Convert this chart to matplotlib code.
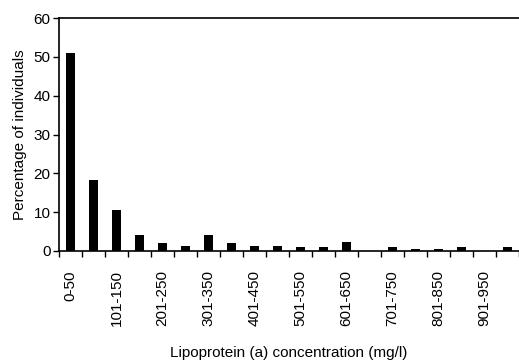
import matplotlib
matplotlib.use("Agg")
import matplotlib.pyplot as plt
import numpy as np

categories = ["0-50", "51-100", "101-150", "151-200", "201-250", "251-300",
              "301-350", "351-400", "401-450", "451-500", "501-550", "551-600",
              "601-650", "651-700", "701-750", "751-800", "801-850", "851-900",
              "901-950", "951-1000"]
percentages = [51, 18.2, 10.5, 4.0, 2.0, 1.3, 4.0, 2.0, 1.3, 1.3, 1.0, 1.0,
               2.3, 0, 1.0, 0.4, 0.4, 1.0, 0, 1.0]
tick_labels = [c if i % 2 == 0 else "" for i, c in enumerate(categories)]

plt.rcParams['font.family'] = ['Liberation Sans', 'DejaVu Sans']
plt.rcParams['font.size'] = 11

fig = plt.figure(figsize=(5.19, 3.61), dpi=100)
ax = fig.add_axes([59/519, 1 - 251/361, 460/519, 233/361])

x = np.arange(len(categories))
ax.bar(x, percentages, width=0.43, color='black')
ax.set_xlim(-0.5, len(categories) - 0.5)
ax.set_ylim(0, 60)
ax.set_yticks(range(0, 61, 10))

ax.set_xticks(x)
ax.set_xticklabels(tick_labels, rotation=90)
ax.tick_params(axis='x', which='major', length=0, pad=14)
ax.set_xticks(np.arange(-0.5, len(categories), 1), minor=True)
ax.tick_params(axis='x', which='minor', length=4, direction='out', width=1)
ax.tick_params(axis='y', length=4, direction='out', width=1, pad=2)

for s in ['left', 'bottom', 'top']:
    ax.spines[s].set_linewidth(1.2)
ax.spines['right'].set_visible(False)

ax.set_ylabel("Percentage of individuals", labelpad=5)
ax.set_xlabel("Lipoprotein (a) concentration (mg/l)", labelpad=14)

fig.savefig("out.png", dpi=100)
